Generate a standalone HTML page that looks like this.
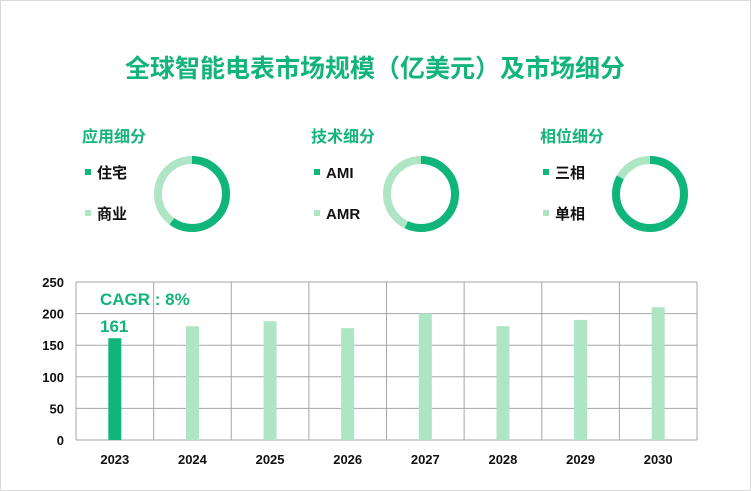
<!DOCTYPE html>
<html><head><meta charset="utf-8"><style>
body{margin:0;width:751px;height:491px;background:#fff;overflow:hidden;font-family:"Liberation Sans","Noto Sans CJK SC",sans-serif}
#frame{position:absolute;left:0;top:0;width:749px;height:489px;border:1px solid #d9d9d9}
</style></head><body>
<div id="frame"></div>
<svg width="751" height="491" style="position:absolute;left:0;top:0">
<text x="375" y="77" text-anchor="middle" font-size="25" font-weight="bold" fill="#13b47a">全球智能电表市场规模（亿美元）及市场细分</text>
<g id="donuts"></g>
<g id="bars"></g>
</svg>
<script>
const years=["2023","2024","2025","2026","2027","2028","2029","2030"];
const values=[161,180,188,177,200,180,190,210];
const yTicks=[0,50,100,150,200,250];
const donutTitles=["应用细分","技术细分","相位细分"];
const donutLabelsA=["住宅","AMI","三相"];
const donutLabelsB=["商业","AMR","单相"];
const donutShares=[0.6,0.57,0.83];
const DARK="#10b57a",LIGHT="#aee5c4";
const NS="http://www.w3.org/2000/svg";
function mk(t,a,p){const e=document.createElementNS(NS,t);for(const k in a)e.setAttribute(k,a[k]);p.appendChild(e);return e;}
const dg=document.getElementById('donuts');
donutTitles.forEach((t,i)=>{
  const ox=82+i*229;
  const tt=mk('text',{x:ox,y:142,'font-size':16,'font-weight':'bold',fill:'#13b47a'},dg);tt.textContent=t;
  
  
  [[donutLabelsA[i],DARK,178],[donutLabelsB[i],LIGHT,219]].forEach(([l,c,y])=>{
    const r=mk('rect',{x:ox+3,y:y-9,width:6,height:6,fill:c},dg);
    
    
    const tx=mk('text',{x:ox+15,y:y,'font-size':15,'font-weight':'bold',fill:'#111'},dg);tx.textContent=l;
    
    
  });
  const cx=192+i*229,cy=194,R=34,C=2*Math.PI*R,s=donutShares[i];
  const b=mk('circle',{cx,cy,r:R,fill:'none',stroke:LIGHT,'stroke-width':8},dg);
  
  
  const f=mk('circle',{cx,cy,r:R,fill:'none',stroke:DARK,'stroke-width':8,'stroke-dasharray':(C*s)+' '+C,transform:`rotate(-90 ${cx} ${cy})`},dg);
  
  
});
const bg=document.getElementById('bars');
const X0=76,X1=697,Y0=440,Y1=282,yMax=250;
const cw=(X1-X0)/years.length;
const yS=v=>Y0-(v/yMax)*(Y0-Y1);
yTicks.forEach(v=>{
  const y=yS(v);
  const l=mk('line',{x1:X0,x2:X1,y1:y,y2:y,stroke:'#a6a6a6','stroke-width':1},bg);
  
  
  const t=mk('text',{x:64,y:y+5,'text-anchor':'end','font-size':13,'font-weight':'bold',fill:'#111'},bg);t.textContent=v;
  
  
});
for(let i=0;i<=years.length;i++){
  const x=X0+i*cw;
  const l=mk('line',{x1:x,x2:x,y1:Y1,y2:Y0,stroke:'#a6a6a6','stroke-width':1},bg);
  
  
}
years.forEach((yr,i)=>{
  const cx=X0+cw*(i+0.5);
  const r=mk('rect',{x:cx-6.5,y:yS(values[i]),width:13,height:Y0-yS(values[i]),fill:i==0?DARK:LIGHT},bg);
  
  
  const t=mk('text',{x:cx,y:464,'text-anchor':'middle','font-size':13,'font-weight':'bold',fill:'#111'},bg);t.textContent=yr;
  
  
});
const vl=mk('text',{x:100,y:332,'font-size':17,'font-weight':'bold',fill:'#13b47a'},bg);vl.textContent=values[0];


const cg=mk('text',{x:100,y:305,'font-size':17,'font-weight':'bold',fill:'#13b47a'},bg);cg.textContent="CAGR : 8%";


</script>
</body></html>
